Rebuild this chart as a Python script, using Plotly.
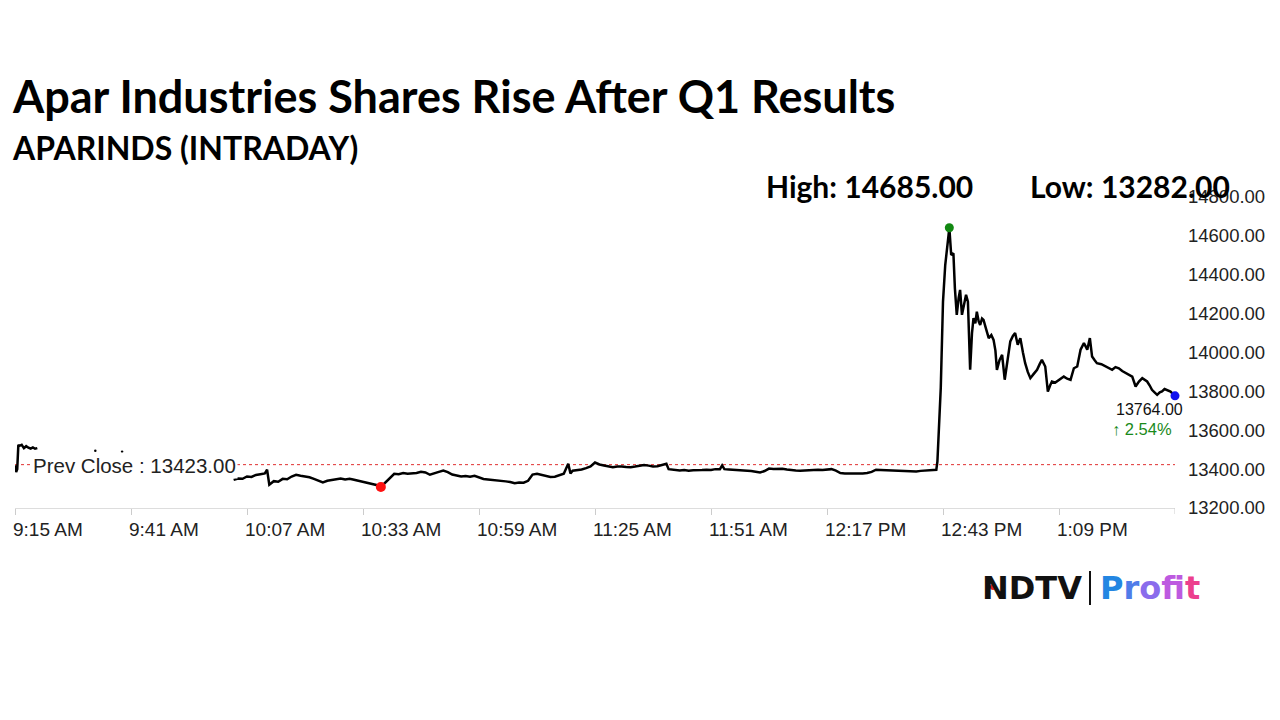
import plotly.graph_objects as go

DAY = "2024-08-08 "

# ---- opening minutes (09:15-09:20), then data gap ----
open_times = ["09:15:00", "09:15:15", "09:15:30", "09:15:45", "09:16:00", "09:16:30",
              "09:17:00", "09:17:30", "09:18:00", "09:18:30", "09:19:00", "09:19:30", "09:20:00"]
open_prices = [13420, 13385, 13400, 13525, 13520, 13525,
               13508, 13518, 13510, 13506, 13512, 13505, 13508]

# isolated ticks during the gap
stray_times = ["09:33:00", "09:39:00"]
stray_prices = [13495, 13490]

# ---- main session 10:04 -> 13:35 ----
main_times = [
    "10:04", "10:05", "10:06", "10:07", "10:08", "10:09", "10:10", "10:11", "10:11:30", "10:12",
    "10:13", "10:14", "10:15", "10:16", "10:17", "10:18", "10:19", "10:20", "10:21", "10:22",
    "10:23", "10:24", "10:25", "10:26", "10:27", "10:28", "10:29", "10:30", "10:31", "10:32",
    "10:33", "10:34", "10:35", "10:36", "10:37", "10:38", "10:39", "10:40", "10:41", "10:42",
    "10:43", "10:44", "10:45", "10:46", "10:47", "10:48", "10:49", "10:50", "10:51", "10:52",
    "10:53", "10:54", "10:55", "10:56", "10:57", "10:58", "10:59", "11:00", "11:01", "11:02",
    "11:03", "11:04", "11:05", "11:06", "11:07", "11:08", "11:09", "11:10", "11:11", "11:12",
    "11:13", "11:14", "11:15", "11:16", "11:17", "11:18", "11:19", "11:19:30", "11:20", "11:21",
    "11:22", "11:23", "11:24", "11:25", "11:26", "11:27", "11:28", "11:29", "11:30", "11:31",
    "11:32", "11:33", "11:34", "11:35", "11:36", "11:37", "11:38", "11:39", "11:40", "11:41",
    "11:41:30", "11:42", "11:43", "11:44", "11:45", "11:46", "11:47", "11:48", "11:49", "11:50",
    "11:51", "11:52", "11:53", "11:53:30", "11:54", "11:55", "11:56", "11:57", "11:58", "11:59",
    "12:00", "12:01", "12:02", "12:03", "12:04", "12:05", "12:06", "12:07", "12:08", "12:09",
    "12:10", "12:11", "12:12", "12:13", "12:14", "12:15", "12:16", "12:17", "12:18", "12:19",
    "12:20", "12:21", "12:22", "12:23", "12:24", "12:25", "12:26", "12:27", "12:28", "12:29",
    "12:30", "12:31", "12:32", "12:33", "12:34", "12:35", "12:36", "12:37", "12:38", "12:39",
    "12:40", "12:41", "12:41:30", "12:41:45", "12:42:15", "12:42:30", "12:43:00", "12:43:30",
    "12:44:15", "12:44:25", "12:44:50", "12:45:20", "12:45:40", "12:46:05", "12:46:30", "12:46:50",
    "12:47:15", "12:47:40", "12:48:10", "12:48:35", "12:49:05", "12:49:30", "12:49:50", "12:50:15",
    "12:50:35", "12:51:00", "12:51:20", "12:51:45", "12:52:05", "12:52:40", "12:53:15", "12:53:50",
    "12:54:20", "12:54:45", "12:55:05", "12:55:40", "12:56:15", "12:56:50", "12:57:25", "12:58:05",
    "12:58:40", "12:59:10", "12:59:45", "13:00:20", "13:00:55", "13:01:25", "13:02:00", "13:02:35",
    "13:03:20", "13:04:05", "13:04:40", "13:05:10", "13:05:55", "13:06:30", "13:07:00", "13:07:25",
    "13:08:10", "13:08:55", "13:09:30", "13:10:05", "13:10:50", "13:11:35", "13:12:20", "13:13:05",
    "13:13:50", "13:14:35", "13:15:00", "13:15:20", "13:15:55", "13:16:25", "13:17:00", "13:17:30",
    "13:18:30", "13:19:25", "13:20:10", "13:20:55", "13:21:40", "13:22:25", "13:23:10", "13:23:55",
    "13:24:40", "13:25:25", "13:26:10", "13:26:55", "13:27:40", "13:28:45", "13:29:20", "13:29:50",
    "13:30:25", "13:31:00", "13:31:35", "13:32:05", "13:32:40", "13:33:15", "13:34:00", "13:34:45",
    "13:35:00",
]
main_prices = [
    13345, 13352, 13350, 13362, 13360, 13370, 13374, 13378, 13397, 13320,
    13338, 13335, 13350, 13348, 13362, 13371, 13366, 13362, 13358, 13350,
    13340, 13332, 13340, 13344, 13348, 13352, 13347, 13350, 13345, 13340,
    13332, 13330, 13325, 13318, 13308, 13330, 13352, 13376, 13374, 13380,
    13376, 13378, 13380, 13386, 13383, 13371, 13380, 13386, 13393, 13385,
    13372, 13368, 13362, 13365, 13361, 13366, 13358, 13349, 13347, 13345,
    13344, 13340, 13337, 13334, 13328, 13331, 13330, 13340, 13372, 13376,
    13371, 13368, 13360, 13361, 13368, 13376, 13428, 13378, 13392, 13395,
    13398, 13405, 13414, 13434, 13424, 13419, 13415, 13410, 13413, 13414,
    13411, 13410, 13413, 13417, 13421, 13418, 13414, 13415, 13420, 13428,
    13400, 13398, 13396, 13393, 13395, 13392, 13394, 13393, 13395, 13397,
    13396, 13400, 13400, 13419, 13400, 13398, 13397, 13396, 13395, 13393,
    13390, 13387, 13383, 13390, 13403, 13401, 13402, 13402, 13398, 13394,
    13393, 13392, 13394, 13393, 13395, 13397, 13396, 13398, 13400, 13392,
    13380, 13378, 13377, 13376, 13378, 13378, 13380, 13386, 13397, 13396,
    13395, 13393, 13392, 13394, 13393, 13392, 13390, 13388, 13391, 13393,
    13395, 13398, 13397, 13440, 13680, 13818, 14262, 14450,
    14605, 14642, 14502, 14510, 14330, 14194, 14280, 14322,
    14194, 14250, 14297, 14262, 13911, 14100, 14177, 14150,
    14210, 14160, 14142, 14175, 14168, 14120, 14074, 14090,
    14065, 14010, 13911, 13960, 13988, 13860, 13960, 14057,
    14085, 14100, 14040, 14074, 14000, 13945, 13900, 13868,
    13890, 13911, 13940, 13962, 13928, 13799, 13830, 13851,
    13845, 13859, 13870, 13876, 13865, 13859, 13919, 13928,
    14014, 14048, 14030, 14014, 14074, 13979, 13960, 13945,
    13940, 13928, 13920, 13911, 13925, 13919, 13905, 13894,
    13885, 13876, 13825, 13850, 13868, 13851, 13830, 13808,
    13795, 13782, 13795, 13800, 13812, 13808, 13799, 13782,
    13777,
]

prev_close = 13423.00
last_price = 13764.00
day_high = 14685.00
day_low = 13282.00

x_tick_times = ["09:15", "09:41", "10:07", "10:33", "10:59", "11:25",
                "11:51", "12:17", "12:43", "13:09"]
x_tick_labels = ["9:15 AM", "9:41 AM", "10:07 AM", "10:33 AM", "10:59 AM", "11:25 AM",
                 "11:51 AM", "12:17 PM", "12:43 PM", "1:09 PM"]
x_end_time = "13:35"
y_tick_vals = [13200, 13400, 13600, 13800, 14000, 14200, 14400, 14600, 14800]


def ts(t):
    return DAY + (t if t.count(":") == 2 else t + ":00")


# ---- layout geometry (pixels) ----
W, H = 1280, 720
PL, PR, PT, PB = 15, 1175, 197, 508


def px_x(px):
    return (px - PL) / (PR - PL)


def px_y(py):
    return (PB - py) / (PB - PT)


line_x = [ts(t) for t in open_times] + [ts("09:21:00")] + [ts(t) for t in main_times]
line_y = open_prices + [None] + main_prices

fig = go.Figure()
fig.add_trace(go.Scatter(x=line_x, y=line_y, mode="lines", connectgaps=False,
                         line=dict(color="black", width=2.5), hoverinfo="skip"))
fig.add_trace(go.Scatter(x=[ts(t) for t in stray_times], y=stray_prices, mode="markers",
                         marker=dict(color="black", size=2.5), hoverinfo="skip"))

# high / low / last markers from the plotted series
imax = max(range(len(main_prices)), key=lambda i: main_prices[i])
imin = min(range(len(main_prices)), key=lambda i: main_prices[i])
fig.add_trace(go.Scatter(x=[ts(main_times[imax])], y=[main_prices[imax]], mode="markers",
                         marker=dict(color="#118811", size=9)))
fig.add_trace(go.Scatter(x=[ts(main_times[imin])], y=[main_prices[imin]], mode="markers",
                         marker=dict(color="#ff1111", size=10)))
fig.add_trace(go.Scatter(x=[ts(main_times[-1])], y=[main_prices[-1]], mode="markers",
                         marker=dict(color="#1111ee", size=9), cliponaxis=False))

# prev close dotted line
fig.add_shape(type="line", xref="paper", x0=0, x1=1, yref="y", y0=prev_close, y1=prev_close,
              line=dict(color="#e03030", width=1, dash="dot"), layer="below")
# closing tick mark at the right end of the time axis
fig.add_shape(type="line", xref="x", x0=ts(x_end_time), x1=ts(x_end_time), yref="paper",
              y0=0, y1=px_y(514), line=dict(color="#cccccc", width=1))

TXT = "#222222"
ann = []
ann.append(dict(text="Prev Close : %.2f" % prev_close, x=px_x(31), xref="paper", xanchor="left",
                y=prev_close, yref="y", yanchor="middle", yshift=-1, showarrow=False, bgcolor="white",
                font=dict(family="Liberation Sans", size=20.5, color=TXT)))
pct = (last_price - prev_close) / prev_close * 100
ann.append(dict(text="%.2f" % last_price, x=ts(main_times[-1]), xref="x", xanchor="right", xshift=10,
                y=main_prices[-1], yref="y", yanchor="middle", yshift=-14, showarrow=False,
                font=dict(family="Liberation Sans", size=16, color="#111111")))
ann.append(dict(text="<b>\u2191</b> %.2f%%" % pct, x=ts(main_times[-1]), xref="x", xanchor="right",
                xshift=-1, y=main_prices[-1], yref="y", yanchor="middle", yshift=-33, showarrow=False,
                font=dict(family="Liberation Sans", size=16.5, color="#1a8a1a")))

HEAD = "Lato"
ann.append(dict(text="<b>Apar Industries Shares Rise After Q1 Results</b>", x=px_x(10), xref="paper",
                xanchor="left", y=px_y(96), yref="paper", yanchor="middle", showarrow=False,
                font=dict(family=HEAD, size=45, color="black")))
ann.append(dict(text="<b>APARINDS (INTRADAY)</b>", x=px_x(10), xref="paper",
                xanchor="left", y=px_y(147), yref="paper", yanchor="middle", showarrow=False,
                font=dict(family=HEAD, size=32, color="black")))
ann.append(dict(text="<b>High: %.2f</b>" % day_high, x=px_x(764), xref="paper",
                xanchor="left", y=px_y(186), yref="paper", yanchor="middle", showarrow=False,
                font=dict(family=HEAD, size=30, color="black")))
ann.append(dict(text="<b>Low: %.2f</b>" % day_low, x=px_x(1028), xref="paper",
                xanchor="left", y=px_y(186), yref="paper", yanchor="middle", showarrow=False,
                font=dict(family=HEAD, size=30, color="black")))

# NDTV | Profit logo
ann.append(dict(text="<b>NDTV</b>", x=px_x(980), xref="paper", xanchor="left",
                y=px_y(588), yref="paper", yanchor="middle", showarrow=False,
                font=dict(family="DejaVu Sans", size=32, color="#111111")))
profit_cols = ["#2386e2", "#4f7ce9", "#8a6cec", "#bd5ae0", "#de44c6", "#ec3f8e"]
profit_txt = "".join('<span style="color:%s">%s</span>' % (c, ch) for c, ch in zip(profit_cols, "Profit"))
ann.append(dict(text="<b>" + profit_txt + "</b>", x=px_x(1098), xref="paper", xanchor="left",
                y=px_y(588), yref="paper", yanchor="middle", showarrow=False,
                font=dict(family="DejaVu Sans", size=32)))
fig.add_shape(type="line", xref="paper", yref="paper", x0=px_x(1090), x1=px_x(1090),
              y0=px_y(571), y1=px_y(605), line=dict(color="#111111", width=2))
fig.add_shape(type="circle", xref="paper", yref="paper", x0=px_x(990), x1=px_x(996),
              y0=px_y(584), y1=px_y(590), fillcolor="#e02020", line=dict(width=0))

fig.update_layout(
    width=W, height=H, margin=dict(l=PL, r=W - PR, t=PT, b=H - PB, autoexpand=False),
    paper_bgcolor="white", plot_bgcolor="white", showlegend=False, annotations=ann,
    xaxis=dict(type="date", range=[ts("09:15"), ts(x_end_time)], tickvals=[ts(t) for t in x_tick_times],
               ticktext=x_tick_labels, ticks="outside", ticklen=6, tickcolor="#cccccc",
               ticklabelposition="outside right", ticklabelshift=-3, ticklabelstandoff=4,
               showline=True, linecolor="#dddddd", linewidth=1,
               showgrid=False, zeroline=False,
               tickfont=dict(family="Liberation Sans", size=19, color=TXT)),
    yaxis=dict(range=[13200, 14800], side="right", tickvals=y_tick_vals, tickformat=".2f",
               showgrid=False, zeroline=False, showline=False, ticks="", ticklabelstandoff=12,
               tickfont=dict(family="Liberation Sans", size=18.5, color=TXT)),
)

fig.write_html("out.html")
